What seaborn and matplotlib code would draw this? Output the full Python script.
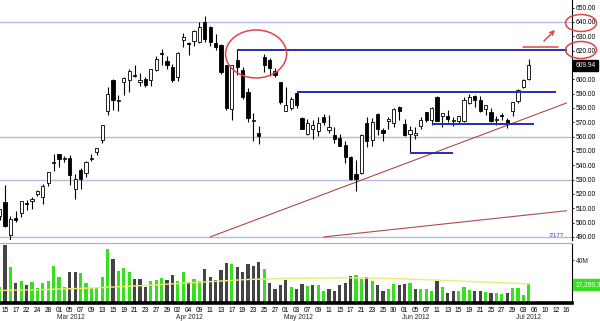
import numpy as np
import pandas as pd
import matplotlib
matplotlib.use("Agg")
import matplotlib.pyplot as plt
import matplotlib.transforms as mtransforms
from matplotlib.patches import Ellipse
import seaborn as sns

# ---------------- data ----------------
holidays = ["2012-02-20", "2012-04-06", "2012-05-28", "2012-07-04"]
axis_dates = pd.bdate_range("2012-02-14", "2012-07-16", freq="C", holidays=holidays)

opens = [504.66, 514.26, 491.50, 503.11, 506.88, 513.08, 515.08, 519.67, 517.56, 527.96, 541.56,
         548.17, 544.24, 545.42, 523.66, 536.80, 534.69, 544.21, 548.98, 557.54, 578.05, 599.61,
         584.72, 598.37, 599.51, 602.74, 597.78, 600.49, 599.79, 606.18, 618.38, 612.78, 608.77,
         601.83, 627.30, 624.35, 626.98, 626.13, 639.93, 636.20, 625.00, 624.11, 610.06, 578.94,
         613.72, 606.26, 591.38, 570.61, 562.61, 615.64, 613.76, 605.94, 597.80,
         578.00, 580.33, 590.50, 573.00, 561.91, 565.31, 563.70, 574.00, 564.73, 561.00, 559.00,
         554.24, 545.53, 533.96, 534.50, 569.55, 557.50, 575.87, 564.59, 570.90, 569.20, 580.74,
         569.16, 561.50, 561.27, 567.77, 577.29, 571.60, 587.72, 574.46, 574.52, 571.24, 571.00,
         570.96, 583.40, 588.21, 585.44, 579.04, 577.30, 571.35, 575.00, 571.72, 578.00,
         584.73, 594.88, 600.06]
highs = [509.56, 526.29, 504.89, 507.77, 514.85, 515.49, 517.83, 522.90, 527.00, 535.41, 547.61,
         548.21, 546.80, 547.48, 533.69, 537.78, 542.99, 547.74, 552.00, 568.18, 594.72, 600.01,
         589.20, 601.77, 606.90, 609.65, 604.50, 601.80, 607.15, 616.28, 621.45, 616.56, 610.56,
         618.77, 632.21, 625.86, 634.66, 639.84, 644.00, 636.87, 631.33, 624.70, 610.28, 610.00,
         620.25, 608.40, 594.11, 576.67, 567.69, 618.00, 614.69, 607.88, 598.40,
         594.36, 587.40, 591.40, 574.05, 572.00, 571.50, 573.38, 575.82, 575.24, 566.88, 561.70,
         556.99, 546.65, 543.41, 561.54, 573.88, 572.80, 576.50, 565.85, 574.00, 579.99, 581.50,
         572.65, 567.50, 566.47, 573.85, 577.32, 580.58, 588.50, 576.62, 578.48, 573.50, 574.62,
         587.89, 590.00, 589.25, 588.22, 582.19, 579.80, 574.51, 576.74, 573.12, 584.00,
         593.47, 600.00, 614.35]
lows = [502.00, 496.89, 486.63, 500.30, 504.12, 509.07, 509.50, 518.64, 513.33, 525.85, 535.70,
        538.77, 542.52, 526.00, 516.22, 523.30, 532.12, 543.11, 547.00, 555.75, 575.40, 578.55,
        578.00, 589.05, 591.48, 601.41, 595.53, 594.40, 595.26, 606.06, 610.31, 607.23, 597.94,
        598.50, 622.51, 617.00, 623.40, 625.30, 626.00, 623.34, 620.50, 603.51, 578.25, 571.91,
        602.71, 586.00, 570.42, 556.62, 555.00, 605.10, 602.13, 601.50, 583.00,
        578.00, 578.86, 580.30, 565.25, 561.05, 558.66, 560.71, 568.44, 562.71, 555.62, 553.17,
        541.42, 530.00, 522.18, 534.05, 552.58, 553.23, 561.23, 556.87, 565.31, 566.56, 571.46,
        560.52, 548.50, 558.33, 565.50, 570.50, 568.00, 570.63, 566.70, 570.38, 567.26, 569.55,
        570.37, 583.10, 580.80, 577.44, 575.42, 570.37, 568.38, 571.92, 565.90, 574.25,
        583.60, 594.00, 599.59]
closes = [509.46, 497.67, 502.21, 502.12, 514.85, 513.04, 516.39, 522.41, 525.76, 535.41, 542.44,
          544.47, 545.18, 533.16, 530.26, 530.69, 541.99, 545.17, 552.00, 568.10, 589.58, 585.56,
          585.57, 601.10, 605.96, 602.50, 599.34, 596.05, 606.98, 614.48, 617.62, 609.86, 599.55,
          618.63, 629.32, 624.31, 633.68, 636.23, 628.44, 626.20, 622.77, 605.23, 580.13, 609.70,
          608.34, 587.44, 572.98, 571.70, 560.28, 610.00, 607.70, 603.00, 583.98,
          582.13, 585.98, 581.82, 565.25, 569.48, 568.18, 569.18, 570.52, 566.71, 558.22, 553.17,
          546.08, 530.12, 530.38, 561.28, 556.97, 570.56, 565.32, 562.29, 572.27, 579.17, 577.73,
          560.99, 564.29, 562.83, 571.46, 571.72, 580.32, 571.17, 576.16, 572.16, 571.53, 574.13,
          585.78, 587.41, 585.74, 577.67, 582.10, 570.77, 572.02, 574.50, 569.05, 584.00,
          592.52, 599.41, 609.94]
volumes = [15.2, 54.3, 33.6, 18.4, 20.6, 16.2, 19.7, 13.7, 19.0, 20.6, 34.3,
           23.8, 14.3, 28.6, 28.6, 28.2, 18.1, 14.0, 14.0, 24.1, 51.1, 41.2,
           29.5, 32.4, 28.6, 22.5, 22.2, 14.3, 20.6, 21.3, 23.2, 21.3, 26.0,
           20.6, 29.2, 19.7, 22.5, 20.6, 31.7, 24.4, 21.6, 30.5, 37.1, 36.8,
           34.0, 29.2, 36.8, 34.6, 38.4, 32.1, 18.4, 13.0, 17.1,
           21.0, 14.3, 12.7, 17.8, 15.9, 16.8, 16.2, 11.1, 13.3, 11.4, 16.2,
           18.7, 25.4, 26.0, 22.2, 24.1, 20.0, 16.8, 10.5, 12.7, 17.8, 16.8,
           17.8, 18.7, 12.7, 12.7, 12.4, 11.4, 20.3, 14.3, 9.5, 11.4, 10.8,
           14.9, 12.1, 11.4, 10.5, 9.8, 8.9, 9.5, 8.2, 8.9, 13.7,
           13.7, 7.6, 17.3]
prev_close_first = 502.60

ma_dates = ["2012-02-14", "2012-02-28", "2012-03-12", "2012-03-23", "2012-04-09", "2012-04-20",
            "2012-05-03", "2012-05-17", "2012-05-31", "2012-06-13", "2012-06-26", "2012-07-05"]
ma_values = [11.4, 12.4, 14.0, 16.2, 19.3, 21.9, 23.1, 23.5, 22.6, 20.9, 19.0, 17.6]

price_ticks = list(range(490, 651, 10))
grid_levels = [640, 560, 530, 490]

# drawn annotations: (start date, end date, level)
blue_levels = [("2012-04-18", "2012-07-16", 620.25),
               ("2012-05-03", "2012-07-12", 591.0),
               ("2012-06-08", "2012-07-06", 568.6),
               ("2012-06-04", "2012-06-14", 548.5)]
trend_lines = [("2012-04-11", 490.0, "2012-07-16", 583.5),
               ("2012-05-10", 490.0, "2012-07-16", 508.3)]

# ---------------- positions ----------------
date_pos = {d.strftime("%Y-%m-%d"): i - 1 for i, d in enumerate(axis_dates)}
n = len(closes)
pos = np.arange(n) - 1
all_pos = np.arange(len(axis_dates)) - 1

GREEN = "#36e01e"
GRAY = "#444444"
BLUE = "#2b2bb3"
RED = "#b04a4a"
ANN = "#e04545"
FS = 4.8

sns.set_style("white")
plt.rcParams["font.family"] = ["Liberation Sans", "DejaVu Sans"]

fig = plt.figure(figsize=(6.0, 3.21), dpi=100)
W, H = 600.0, 321.0
axp = fig.add_axes([0, 1 - 240 / H, 572 / W, 240 / H])
axv = fig.add_axes([0, 1 - 302.5 / H, 572 / W, 59.5 / H])

xlim = (-0.926, 105.0)

# ---------------- price panel ----------------
for g in grid_levels:
    axp.axhline(g, color="#b8b8de", lw=1.0, zorder=1)

for (d0, p0, d1, p1) in trend_lines:
    sns.lineplot(x=[date_pos[d0], date_pos[d1]], y=[p0, p1], color=RED, lw=0.8, ax=axp, zorder=2)

o = np.array(opens); h = np.array(highs); l = np.array(lows); c = np.array(closes)
axp.vlines(pos, l, h, color="black", lw=0.8, zorder=3)
up = c >= o
body_lo = np.minimum(o, c)
body_h = np.maximum(np.abs(c - o), 0.7)
axp.bar(pos[up], body_h[up], bottom=body_lo[up], width=0.6, color="white",
        edgecolor="black", linewidth=0.6, zorder=4)
axp.bar(pos[~up], body_h[~up], bottom=body_lo[~up], width=0.6, color="black",
        edgecolor="black", linewidth=0.6, zorder=4)

for (d0, d1, lev) in blue_levels:
    axp.plot([date_pos[d0], date_pos[d1]], [lev, lev], color=BLUE, lw=1.4, zorder=5,
             solid_capstyle="butt")

axp.add_patch(Ellipse((46.5, 617.7), 11.3, 33.5, fill=False, edgecolor=ANN, lw=1.1, zorder=6))
axp.plot([95.9, 102.4], [622.6, 622.6], color=ANN, lw=1.1, zorder=6)

axp.set_xlim(*xlim)
axp.set_ylim(487.87, 655.35)
axp.set_xticks([])
axp.yaxis.tick_right()
axp.set_yticks(price_ticks)
axp.set_yticklabels(["" if t == 610 else f"{t:.2f}" for t in price_ticks], fontsize=FS)
axp.tick_params(axis="y", length=1.5, pad=1.2, colors="black", width=0.6)
for s in ["top", "left", "bottom"]:
    axp.spines[s].set_visible(False)
axp.spines["right"].set_color("black")
axp.spines["right"].set_linewidth(0.8)
axp.set_xlabel(""); axp.set_ylabel("")

# last price tag
blend = mtransforms.blended_transform_factory(axp.transAxes, axp.transData)
axp.text(1.006, closes[-1], f"{closes[-1]:.2f}", transform=blend, fontsize=FS, color="white",
         va="center", ha="left", clip_on=False,
         bbox=dict(boxstyle="square,pad=0.3", fc="black", ec="black"))
axp.text(date_pos["2012-07-12"], 489.0, "7/17?", fontsize=4.3, color="#4040c0",
         ha="center", va="bottom")

# ---------------- volume panel ----------------
prev = np.concatenate([[prev_close_first], c[:-1]])
vcolors = np.where(c >= prev, GREEN, GRAY)
axv.bar(pos, volumes, width=0.56, color=vcolors, linewidth=0, zorder=2)
sns.lineplot(x=[date_pos[d] for d in ma_dates], y=ma_values, color="#ecec70", lw=1.0,
             ax=axv, zorder=3)

axv.set_xlim(*xlim)
axv.set_ylim(0, 56.6)
axv.yaxis.tick_right()
axv.set_yticks([40])
axv.set_yticklabels(["40M"], fontsize=FS)
axv.tick_params(axis="y", length=1.5, pad=1.5, width=0.6)
tick_pos = all_pos[1::2]
axv.set_xticks(tick_pos)
axv.set_xticklabels([axis_dates[p + 1].strftime("%d") for p in tick_pos], fontsize=FS)
axv.tick_params(axis="x", length=2, pad=1.5, width=0.8, colors="black")
axv.spines["left"].set_visible(False)
axv.spines["top"].set_color("#b0b0b0")
axv.spines["top"].set_linewidth(0.8)
axv.spines["right"].set_color("black")
axv.spines["right"].set_linewidth(0.8)
axv.spines["bottom"].set_color("black")
axv.spines["bottom"].set_linewidth(2.6)
axv.set_xlabel(""); axv.set_ylabel("")

vblend = mtransforms.blended_transform_factory(axv.transAxes, axv.transData)
axv.text(1.006, volumes[-1], "17,299,3", transform=vblend, fontsize=FS, color="white",
         va="center", ha="left", clip_on=False,
         bbox=dict(boxstyle="square,pad=0.3", fc=GREEN, ec=GREEN))

# month labels at first trading day of each month
xblend = mtransforms.blended_transform_factory(axv.transData, axv.transAxes)
month_starts = {}
for i, d in enumerate(axis_dates):
    key = d.strftime("%b %Y")
    if key not in month_starts and d.day <= 5 and d.month > 2:
        month_starts[key] = i - 1
for lab, p in month_starts.items():
    axv.text(p - 0.4, -0.26, lab, transform=xblend, fontsize=FS, ha="left", va="center")

# right-axis label highlights and arrow
for yy in [23, 50]:
    fig.patches.append(Ellipse((581 / W, 1 - yy / H), 31 / W, 17 / H, fill=False,
                               edgecolor=ANN, lw=1.1, transform=fig.transFigure, figure=fig))
axp.annotate("", xy=(557, H - 28), xytext=(542, H - 43), xycoords="figure pixels",
             textcoords="figure pixels",
             arrowprops=dict(arrowstyle="->", color=ANN, lw=1.1, mutation_scale=7))

fig.savefig("out.png", dpi=100)
